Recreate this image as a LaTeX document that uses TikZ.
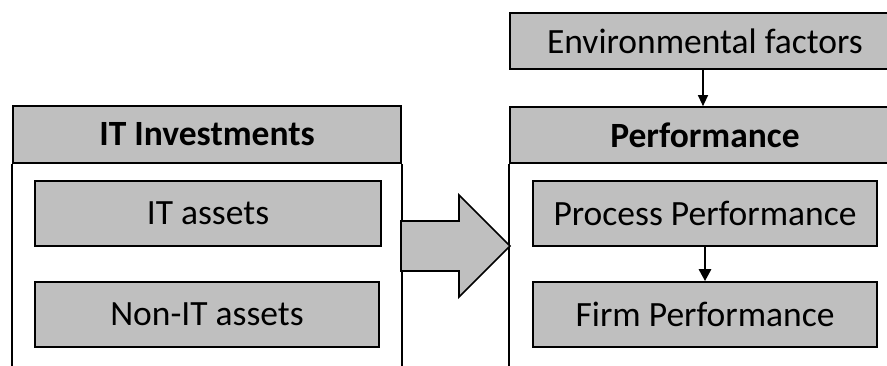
\documentclass[tikz,border=0pt]{standalone}
\usepackage{fontspec}
\setmainfont{Carlito}
\usetikzlibrary{arrows.meta}
\definecolor{boxgray}{HTML}{BFBFBF}
\begin{document}
\begin{tikzpicture}[x=1pt,y=-1pt,
  box/.style={draw=black, line width=1.7pt, fill=boxgray, inner sep=0pt,
    font=\fontsize{35.5}{40}\selectfont},
  head/.style={box, font=\fontsize{35.5}{40}\selectfont\bfseries},
  frame/.style={draw=black, line width=1.7pt},
  link/.style={draw=black, line width=1.3pt, -{Triangle[length=11pt,width=10pt]}},
  boldlink/.style={draw=black, line width=2.8pt, -{Triangle[length=12pt,width=12pt]}}]
\useasboundingbox (0,0) rectangle (887,365);
\clip (0,0) rectangle (887,365);

% left group: IT investments
\node[head, minimum width=388pt, minimum height=57pt] (ith) at (207,134.5) {IT Investments};
\draw[frame] (ith.south west) -- (ith.south west |- 0,380);
\draw[frame] (ith.south east) -- (ith.south east |- 0,380);
\node[box, minimum width=346pt, minimum height=65pt] (ita) at (208,213.5) {IT assets};
\node[box, minimum width=344pt, minimum height=65pt] (nita) at (207,314.5) {Non-IT assets};

% right group: performance
\node[box, minimum width=390pt, minimum height=56pt] (env) at (705,41) {Environmental factors};
\node[head, minimum width=390pt, minimum height=56pt] (perf) at (705,135) {Performance};
\draw[frame] (perf.south west) -- (perf.south west |- 0,380);
\node[box, minimum width=344pt, minimum height=65pt] (proc) at (705,213.5) {Process Performance};
\node[box, minimum width=344pt, minimum height=65pt] (firm) at (705,314.5) {Firm Performance};

% connectors
\draw[link] (env.south -| 703,0) -- (perf.north -| 703,0);
\draw[boldlink] (proc.south) -- (firm.north);

% block arrow between the groups
\draw[frame, fill=boxgray, line join=miter]
  (401,221) -- (459,221) -- (459,195) -- (510,246) -- (459,297) -- (459,271) -- (401,271) -- cycle;
\end{tikzpicture}
\end{document}
